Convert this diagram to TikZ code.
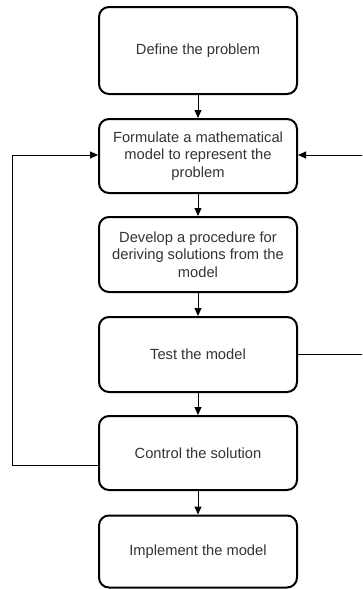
\documentclass[tikz,border=0pt]{standalone}
\usepackage{fontspec}
\setmainfont{Liberation Sans}
\usetikzlibrary{arrows.meta}
\definecolor{txt}{HTML}{333333}
\begin{document}
\begin{tikzpicture}[x=1pt,y=-1pt,
  stepbox/.style={draw=black,line width=2pt,rounded corners=10pt,minimum width=198pt,
    align=center,text=txt,font=\fontsize{14.7}{17.5}\selectfont,inner sep=0pt},
  conn/.style={draw=black,line width=1pt,-{Triangle[length=8pt,width=7pt]}},
  line/.style={draw=black,line width=1pt}]
\useasboundingbox (0,0) rectangle (362,589);
\clip (0,0) rectangle (362,589);
\node[stepbox,minimum height=87pt] (b1) at (198,50.5) {Define the problem};
\node[stepbox,minimum height=74pt] (b2) at (198,156) {Formulate a mathematical\\model to represent the\\problem};
\node[stepbox,minimum height=75pt] (b3) at (198,254.5) {Develop a procedure for\\deriving solutions from the\\model};
\node[stepbox,minimum height=75pt] (b4) at (198,354.5) {Test the model};
\node[stepbox,minimum height=74pt] (b5) at (198,453) {Control the solution};
\node[stepbox,minimum height=72pt] (b6) at (198,551.5) {Implement the model};
\draw[conn] (b1) -- (b2);
\draw[conn] (b2) -- (b3);
\draw[conn] (b3) -- (b4);
\draw[conn] (b4) -- (b5);
\draw[conn] (b5) -- (b6);
\coordinate (l1) at (12,465);
\coordinate (l2) at (12,155);
\draw[conn] (b5.west |- l1) -- (l1) -- (l2) -- (b2.west |- l2);
\coordinate (r1) at (368,354.5);
\coordinate (r2) at (368,155);
\draw[conn] (b4.east) -- (r1) -- (r2) -- (b2.east |- r2);
\end{tikzpicture}
\end{document}
